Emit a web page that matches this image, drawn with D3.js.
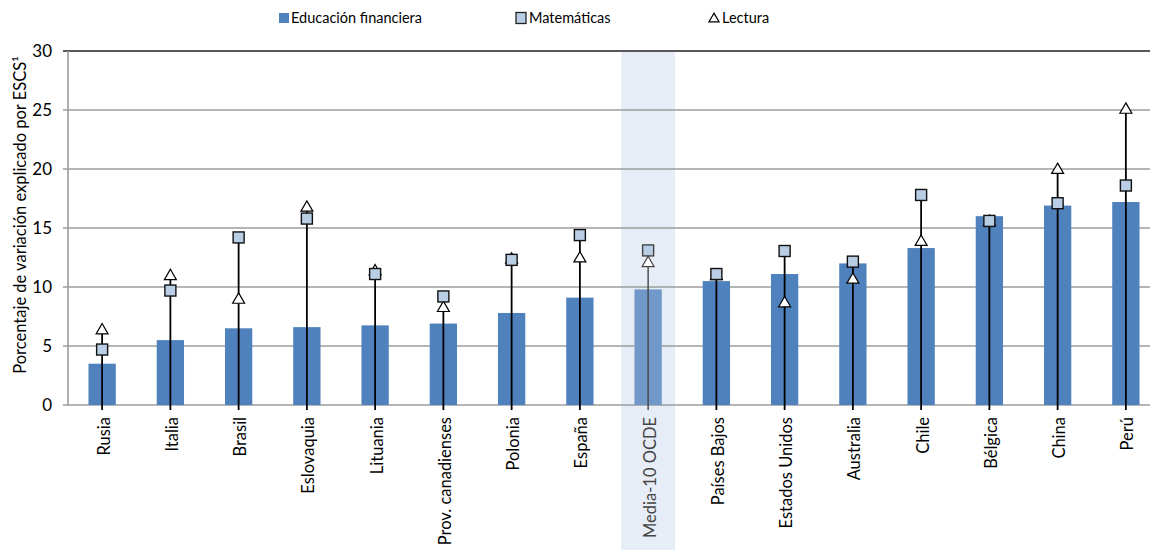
<!DOCTYPE html>
<html><head><meta charset="utf-8">
<script src="https://cdn.jsdelivr.net/npm/d3@7/dist/d3.min.js"></script>
<style>body{margin:0;background:#fff}svg{display:block}text{font-family:Lato,"Open Sans",sans-serif}</style>
</head><body><svg id="c" width="1150" height="550"></svg>
<script>
const categories = ["Rusia","Italia","Brasil","Eslovaquia","Lituania","Prov. canadienses","Polonia","España","Media-10 OCDE","Países Bajos","Estados Unidos","Australia","Chile","Bélgica","China","Perú"];
const financiera = [3.5,5.5,6.5,6.6,6.75,6.9,7.8,9.1,9.8,10.5,11.1,12.0,13.3,16.0,16.9,17.2];
const matematicas = [4.7,9.7,14.2,15.8,11.1,9.2,12.3,14.4,13.1,11.1,13.05,12.15,17.8,15.6,17.1,18.6];
const lectura = [6.4,11.0,9.0,16.8,11.4,8.3,12.4,12.5,12.1,11.0,8.7,10.7,13.9,15.6,20.0,25.1];
const yTicks = [0,5,10,15,20,25,30];
const highlight = "Media-10 OCDE";

(function(){
const svg = d3.select("#c");
const pL = 68, pR = 1160, pT = 51, pB = 405;
const x = d3.scaleBand().domain(categories).range([pL, pR]).paddingInner(0.6).paddingOuter(0.3);
const y = d3.scaleLinear().domain([0,30]).range([pB, pT]);
const cx = c => x(c) + x.bandwidth()/2;

// highlight band
svg.append("rect").attr("x", cx(highlight)-27).attr("width", 54)
  .attr("y", pT).attr("height", 550-pT).attr("fill", "#e7edf6");

// gridlines
svg.append("g").selectAll("line").data(yTicks).join("line")
  .attr("x1", pL-5).attr("x2", pR).attr("y1", d=>y(d)).attr("y2", d=>y(d))
  .attr("stroke", d => d===30 ? "#222" : "#9c9c9c").attr("stroke-width", 1.6);
// y axis line
svg.append("line").attr("x1", pL).attr("x2", pL).attr("y1", pT).attr("y2", pB)
  .attr("stroke", "#9c9c9c").attr("stroke-width", 1.6);
// y tick labels
svg.append("g").selectAll("text").data(yTicks).join("text")
  .attr("x", 52).attr("y", d=>y(d)).attr("dy", "0.36em").attr("text-anchor", "end")
  .attr("font-size", 17).attr("fill", "#000").text(d=>d);
// y label
svg.append("text").attr("transform", `translate(26,215) rotate(-90)`)
  .attr("text-anchor", "middle").attr("font-size", 16.5).attr("fill", "#000")
  .text("Porcentaje de variación explicado por ESCS¹");

// bars
svg.append("g").selectAll("rect").data(categories).join("rect")
  .attr("x", d=>x(d)).attr("width", x.bandwidth())
  .attr("y", (d,i)=>y(financiera[i])).attr("height", (d,i)=>y(0)-y(financiera[i]))
  .attr("fill", d => d===highlight ? "#7099c9" : "#4f81bd");

// vertical lines
svg.append("g").selectAll("line").data(categories).join("line")
  .attr("x1", cx).attr("x2", cx)
  .attr("y1", pB+5).attr("y2", (d,i)=>y(Math.max(matematicas[i], lectura[i])))
  .attr("stroke", d => d===highlight ? "#444" : "#000").attr("stroke-width", d => d===highlight ? 1.4 : 1.8);

const tri = d3.symbol().type(d3.symbolTriangle).size(62);
// triangles
svg.append("g").selectAll("path").data(categories).join("path")
  .attr("d", tri).attr("transform", (d,i)=>`translate(${cx(d)},${y(lectura[i])+1})`)
  .attr("fill", "#fff").attr("stroke", d => d===highlight ? "#444" : "#000").attr("stroke-width", 1.2);
// squares
svg.append("g").selectAll("rect").data(categories).join("rect")
  .attr("x", d=>cx(d)-5.5).attr("width", 11)
  .attr("y", (d,i)=>y(matematicas[i])-5.5).attr("height", 11)
  .attr("fill", "#b9cde5").attr("stroke", d => d===highlight ? "#444" : "#111").attr("stroke-width", 1.4);

// x labels
svg.append("g").selectAll("text").data(categories).join("text")
  .attr("transform", d=>`translate(${cx(d)+7.5},${417}) rotate(-90)`)
  .attr("text-anchor", "end").attr("font-size", 16.5)
  .attr("fill", d => d===highlight ? "#444" : "#000").text(d=>d);

// legend
const lg = svg.append("g");
lg.append("rect").attr("x", 279).attr("y", 13).attr("width", 10).attr("height", 10).attr("fill", "#4f81bd");
lg.append("text").attr("x", 291).attr("y", 18).attr("dy", "0.36em").attr("font-size", 14.5).text("Educación financiera");
lg.append("rect").attr("x", 516).attr("y", 12.5).attr("width", 10).attr("height", 11).attr("fill", "#b9cde5").attr("stroke", "#222").attr("stroke-width", 1.3);
lg.append("text").attr("x", 529).attr("y", 18).attr("dy", "0.36em").attr("font-size", 14.5).text("Matemáticas");
lg.append("path").attr("d", d3.symbol().type(d3.symbolTriangle).size(45)).attr("transform", "translate(714,19)")
  .attr("fill", "#fff").attr("stroke", "#000").attr("stroke-width", 1.2);
lg.append("text").attr("x", 722).attr("y", 18).attr("dy", "0.36em").attr("font-size", 14.5).text("Lectura");
})();
</script></body></html>
